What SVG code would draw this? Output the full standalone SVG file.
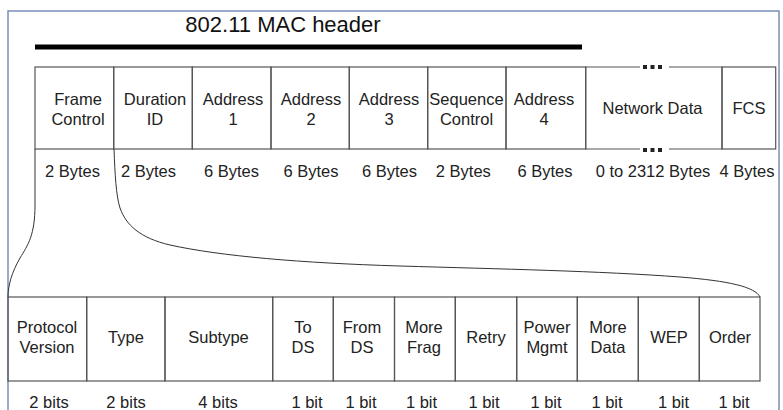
<svg xmlns="http://www.w3.org/2000/svg" width="783" height="410" viewBox="0 0 783 410">
<style>
  .cell { fill: none; stroke: #555; stroke-width: 1.2; }
  .ln { fill: none; stroke: #555; stroke-width: 1.2; }
  .lbl { font-family: "Liberation Sans", Arial, sans-serif; font-size: 16.5px; fill: #222; text-anchor: middle; }
  .title { font-family: "Liberation Sans", Arial, sans-serif; font-size: 22px; fill: #111; text-anchor: middle; }
  .curve { fill: none; stroke: #333; stroke-width: 1; }
  .dot { fill: #222; }
</style>
<rect x="0" y="0" width="783" height="410" fill="#fff"/>
<path d="M8,410 L8,11 L779,11 L779,410" fill="none" stroke="#7a8fb8" stroke-width="1.5"/>

<g id="title">
  <text class="title" x="283" y="32">802.11 MAC header</text>
  <line x1="35" y1="47" x2="582" y2="47" stroke="#000" stroke-width="5"/>
</g>

<g id="frame-control">
  <rect class="cell" x="35" y="67" width="78.7" height="82"/>
  <text class="lbl" x="78" y="105">Frame</text>
  <text class="lbl" x="78" y="125">Control</text>
  <text class="lbl" x="72.5" y="177">2 Bytes</text>
</g>
<g id="duration-id">
  <rect class="cell" x="113.7" y="67" width="78.6" height="82"/>
  <text class="lbl" x="155" y="105">Duration</text>
  <text class="lbl" x="155" y="125">ID</text>
  <text class="lbl" x="148.5" y="177">2 Bytes</text>
</g>
<g id="address-1">
  <rect class="cell" x="192.3" y="67" width="78.7" height="82"/>
  <text class="lbl" x="233" y="105">Address</text>
  <text class="lbl" x="233" y="125">1</text>
  <text class="lbl" x="231.5" y="177">6 Bytes</text>
</g>
<g id="address-2">
  <rect class="cell" x="271" y="67" width="78.3" height="82"/>
  <text class="lbl" x="311" y="105">Address</text>
  <text class="lbl" x="311" y="125">2</text>
  <text class="lbl" x="311" y="177">6 Bytes</text>
</g>
<g id="address-3">
  <rect class="cell" x="349.3" y="67" width="78.4" height="82"/>
  <text class="lbl" x="389" y="105">Address</text>
  <text class="lbl" x="389" y="125">3</text>
  <text class="lbl" x="389.5" y="177">6 Bytes</text>
</g>
<g id="sequence-control">
  <rect class="cell" x="427.7" y="67" width="78.3" height="82"/>
  <text class="lbl" x="466.5" y="105">Sequence</text>
  <text class="lbl" x="466.5" y="125">Control</text>
  <text class="lbl" x="463.3" y="177">2 Bytes</text>
</g>
<g id="address-4">
  <rect class="cell" x="506" y="67" width="79.7" height="82"/>
  <text class="lbl" x="544" y="105">Address</text>
  <text class="lbl" x="544" y="125">4</text>
  <text class="lbl" x="545" y="177">6 Bytes</text>
</g>
<g id="network-data">
  <path class="ln" d="M640,67 L585.7,67 L585.7,149 L640,149 M669,67 L722,67 L722,149 L669,149"/>
  <rect class="dot" x="643" y="65" width="4" height="4"/>
  <rect class="dot" x="650.5" y="65" width="4" height="4"/>
  <rect class="dot" x="658" y="65" width="4" height="4"/>
  <rect class="dot" x="643" y="148" width="4" height="4"/>
  <rect class="dot" x="650.5" y="148" width="4" height="4"/>
  <rect class="dot" x="658" y="148" width="4" height="4"/>
  <text class="lbl" x="652.5" y="114">Network Data</text>
  <text class="lbl" x="653" y="177">0 to 2312 Bytes</text>
</g>
<g id="fcs">
  <rect class="cell" x="722" y="67" width="53.7" height="82"/>
  <text class="lbl" x="749" y="114">FCS</text>
  <text class="lbl" x="747" y="177">4 Bytes</text>
</g>

<g id="connectors">
  <path class="curve" d="M35,149 L35,205 C35,235 28,245 20,258 C12,272 8,285 8,297"/>
  <path class="curve" d="M114,149 C115,175 116,195 120,208 C126,225 140,238 170,245 C220,256 300,263 400,266 C500,269 600,271 680,277 C730,281 755,287 760,297"/>
</g>

<g id="protocol-version">
  <rect class="cell" x="8" y="297" width="78.7" height="84"/>
  <text class="lbl" x="47" y="333">Protocol</text>
  <text class="lbl" x="47" y="353">Version</text>
  <text class="lbl" x="49" y="408">2 bits</text>
</g>
<g id="type">
  <rect class="cell" x="86.7" y="297" width="78.3" height="84"/>
  <text class="lbl" x="126" y="343">Type</text>
  <text class="lbl" x="126" y="408">2 bits</text>
</g>
<g id="subtype">
  <rect class="cell" x="165" y="297" width="107.7" height="84"/>
  <text class="lbl" x="218.5" y="343">Subtype</text>
  <text class="lbl" x="218" y="408">4 bits</text>
</g>
<g id="to-ds">
  <rect class="cell" x="272.7" y="297" width="60.6" height="84"/>
  <text class="lbl" x="303" y="333">To</text>
  <text class="lbl" x="303" y="353">DS</text>
  <text class="lbl" x="307" y="408">1 bit</text>
</g>
<g id="from-ds">
  <rect class="cell" x="333.3" y="297" width="61.2" height="84"/>
  <text class="lbl" x="362" y="333">From</text>
  <text class="lbl" x="362" y="353">DS</text>
  <text class="lbl" x="361" y="408">1 bit</text>
</g>
<g id="more-frag">
  <rect class="cell" x="394.5" y="297" width="60.8" height="84"/>
  <text class="lbl" x="424" y="333">More</text>
  <text class="lbl" x="424" y="353">Frag</text>
  <text class="lbl" x="421.5" y="408">1 bit</text>
</g>
<g id="retry">
  <rect class="cell" x="455.3" y="297" width="61.4" height="84"/>
  <text class="lbl" x="486" y="343">Retry</text>
  <text class="lbl" x="484" y="408">1 bit</text>
</g>
<g id="power-mgmt">
  <rect class="cell" x="516.7" y="297" width="60.6" height="84"/>
  <text class="lbl" x="547" y="333">Power</text>
  <text class="lbl" x="547" y="353">Mgmt</text>
  <text class="lbl" x="546" y="408">1 bit</text>
</g>
<g id="more-data">
  <rect class="cell" x="577.3" y="297" width="61" height="84"/>
  <text class="lbl" x="608" y="333">More</text>
  <text class="lbl" x="608" y="353">Data</text>
  <text class="lbl" x="607" y="408">1 bit</text>
</g>
<g id="wep">
  <rect class="cell" x="638.3" y="297" width="61" height="84"/>
  <text class="lbl" x="669" y="343">WEP</text>
  <text class="lbl" x="673.5" y="408">1 bit</text>
</g>
<g id="order">
  <rect class="cell" x="699.3" y="297" width="60.7" height="84"/>
  <text class="lbl" x="730" y="343">Order</text>
  <text class="lbl" x="734" y="408">1 bit</text>
</g>
</svg>
